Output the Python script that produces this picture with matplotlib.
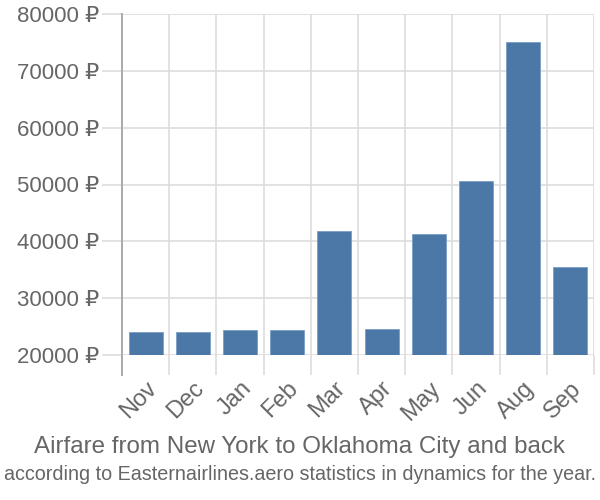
import matplotlib
matplotlib.use('Agg')
import matplotlib.pyplot as plt
from matplotlib.lines import Line2D
from matplotlib import font_manager

plt.rcParams['font.family'] = ['Liberation Sans', 'DejaVu Sans']

months = ['Nov', 'Dec', 'Jan', 'Feb', 'Mar', 'Apr', 'May', 'Jun', 'Aug', 'Sep']
prices = [23950, 23950, 24400, 24400, 41800, 24500, 41350, 50650, 75150, 35500]
yticks = [20000, 30000, 40000, 50000, 60000, 70000, 80000]

title = 'Airfare from New York to Oklahoma City and back'
subtitle = 'according to Easternairlines.aero statistics in dynamics for the year.'

bar_color = '#4c78a8'
grid_color = '#dddddd'
text_color = '#666666'

fig = plt.figure(figsize=(6, 5), dpi=100)
ax = fig.add_axes([122 / 600, 1 - 354.7 / 500, 472 / 600, 340.4 / 500])

x = list(range(len(months)))
ax.bar(x, prices, width=0.72, color=bar_color, edgecolor='#7a9cc4', linewidth=0.6, zorder=3)

ax.set_xlim(-0.5, len(months) - 0.5)
ax.set_ylim(20000, 80000)

ax.set_yticks(yticks)
ax.set_yticklabels(['{} ₽'.format(v) for v in yticks])
ax.set_xticks(x)
ax.set_xticklabels(months, rotation=45, ha='right', rotation_mode='anchor')
ax.set_xticks([i - 0.5 for i in range(len(months) + 1)], minor=True)

tick_len = 14.4
ax.tick_params(axis='y', length=tick_len, color=grid_color, width=1.2,
               labelsize=16, labelcolor=text_color, pad=2)
ax.tick_params(axis='x', which='major', length=0, labelsize=17,
               labelcolor=text_color, pad=tick_len + 2)
ax.tick_params(axis='x', which='minor', length=tick_len, color=grid_color, width=1.2)
for lbl in ax.get_xticklabels():
    lbl.set_x(lbl.get_position()[0] + 0.05)

ax.grid(axis='y', color=grid_color, linewidth=1.2, zorder=0)
ax.grid(axis='x', which='minor', color=grid_color, linewidth=1.2, zorder=0)

for s in ['top', 'right', 'bottom', 'left']:
    ax.spines[s].set_visible(False)

# left axis line reaching down past the plot like the ticks
ax.add_line(Line2D([0, 0], [-20 / 340.4, 1], transform=ax.transAxes,
                   color='#aaaaaa', linewidth=1.4, clip_on=False, zorder=4))

t1 = fig.text(0.5, 1 - 447 / 500, title, ha='center', va='center',
              fontsize=17.4, color=text_color)

names = {f.name for f in font_manager.fontManager.ttflist}
sub_family = ['Liberation Sans Narrow', 'DejaVu Sans'] if 'Liberation Sans Narrow' in names \
    else ['Liberation Sans', 'DejaVu Sans']
t2 = fig.text(0.5, 1 - 475 / 500, subtitle, ha='center', va='center',
              fontsize=14, color=text_color, family=sub_family)

# fit the subtitle to the width it has in the reference
fig.canvas.draw()
w = t2.get_window_extent().width
t2.set_fontsize(14 * 594 / w)

fig.savefig('out.png', dpi=100)
